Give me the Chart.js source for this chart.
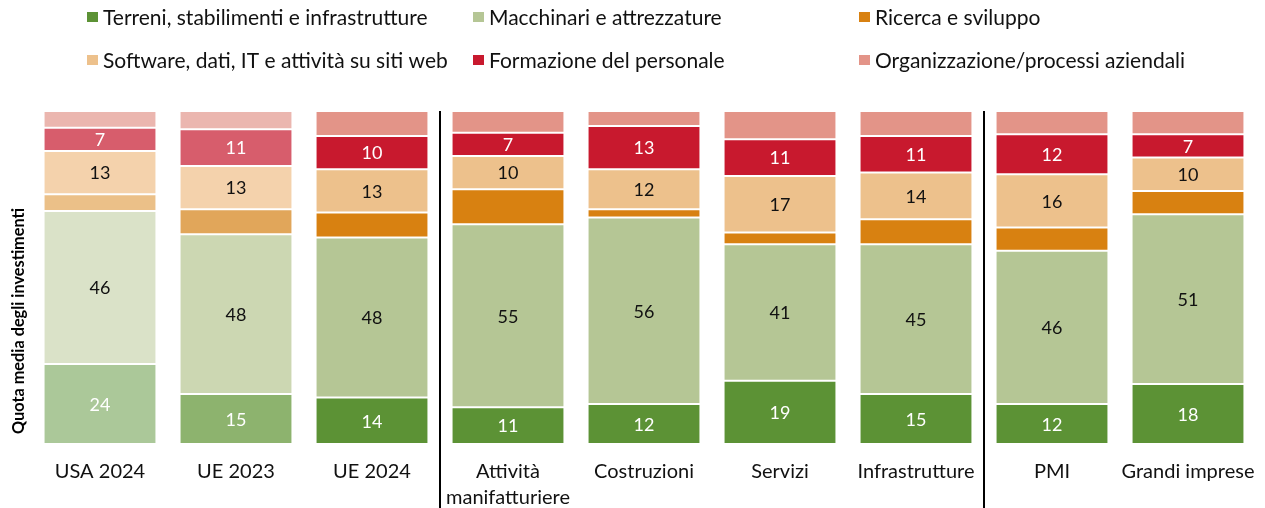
<!DOCTYPE html>
<html>
<head>
<meta charset="utf-8">
<script src="https://cdn.jsdelivr.net/npm/chart.js@4.4.1/dist/chart.umd.min.js"></script>
<style>
  html, body { margin: 0; padding: 0; background: #ffffff; }
  canvas { display: block; }
</style>
</head>
<body>
<canvas id="c" width="1265" height="508"></canvas>
<script>
// ---- data ----
const categories = ["USA 2024", "UE 2023", "UE 2024", ["Attività", "manifatturiere"], "Costruzioni", "Servizi", "Infrastrutture", "PMI", "Grandi imprese"];
const seriesNames = ["Terreni, stabilimenti e infrastrutture", "Macchinari e attrezzature", "Ricerca e sviluppo", "Software, dati, IT e attività su siti web", "Formazione del personale", "Organizzazione/processi aziendali"];
const terreni       = [24, 15, 14, 11, 12, 19, 15, 12, 18];
const macchinari    = [46, 48, 48, 55, 56, 41, 45, 46, 51];
const ricerca       = [5, 7.5, 7.5, 10.5, 2.5, 3.5, 7.5, 7, 7];
const software      = [13, 13, 13, 10, 12, 17, 14, 16, 10];
const formazione    = [7, 11, 10, 7, 13, 11, 11, 12, 7];
const organizzazione= [5, 5.5, 7.5, 6.5, 4.5, 8.5, 7.5, 7, 7];

// ---- styles ----
// shade per category: 0 = lightest (USA 2024), 1 = medium (UE 2023), 2 = full
const shade = [0, 1, 2, 2, 2, 2, 2, 2, 2];
const palette = [
  ["#ABC899", "#8DB36E", "#5C9235"],
  ["#DAE2C8", "#CCD7B2", "#B5C695"],
  ["#EBC088", "#E1A65A", "#D88111"],
  ["#F4D2AC", "#F4D2AC", "#EDC18C"],
  ["#D75D6C", "#D75D6C", "#C8192E"],
  ["#EBB6AF", "#EBB6AF", "#E39488"]
];
const labelColors = ["#ffffff", "#111111", null, "#111111", "#ffffff", null];
const seriesData = [terreni, macchinari, ricerca, software, formazione, organizzazione];
const FONT = "Lato, 'Open Sans', sans-serif";

const datasets = seriesData.map((d, i) => ({
  label: seriesNames[i],
  data: d,
  backgroundColor: shade.map(s => palette[i][s]),
  borderColor: "#ffffff",
  borderWidth: 1,
  borderSkipped: false,
  barPercentage: 0.83,
  categoryPercentage: 1.0,
  labelColor: labelColors[i]
}));

const overlay = {
  id: "overlay",
  afterDraw(chart) {
    const ctx = chart.ctx;
    const xs = chart.scales.x;
    const ca = chart.chartArea;
    // data labels
    ctx.save();
    ctx.font = "18px " + FONT;
    ctx.textAlign = "center";
    ctx.textBaseline = "middle";
    chart.data.datasets.forEach((ds, i) => {
      if (!ds.labelColor) return;
      const meta = chart.getDatasetMeta(i);
      meta.data.forEach((bar, j) => {
        const p = bar.getProps(["x", "y", "base"], true);
        ctx.fillStyle = ds.labelColor;
        ctx.fillText(String(ds.data[j]), p.x, (p.y + p.base) / 2 + 1);
      });
    });
    ctx.restore();
    // group separators
    ctx.save();
    ctx.strokeStyle = "#000000";
    ctx.lineWidth = 2;
    [2, 6].forEach(k => {
      const sx = Math.round((xs.getPixelForValue(k) + xs.getPixelForValue(k + 1)) / 2);
      ctx.beginPath();
      ctx.moveTo(sx, ca.top);
      ctx.lineTo(sx, chart.height);
      ctx.stroke();
    });
    ctx.restore();
    // y axis title
    ctx.save();
    ctx.translate(19, 321);
    ctx.rotate(-Math.PI / 2);
    ctx.font = "bold 16.3px " + FONT;
    ctx.fillStyle = "#000000";
    ctx.textAlign = "center";
    ctx.textBaseline = "middle";
    ctx.fillText("Quota media degli investimenti", 0, 0);
    ctx.restore();
    // legend
    ctx.save();
    ctx.font = "21px " + FONT;
    ctx.textBaseline = "middle";
    ctx.textAlign = "left";
    const colX = [87, 473, 859];
    const rowY = [17, 60];
    chart.data.datasets.forEach((ds, i) => {
      const cx = colX[i % 3], cy = rowY[Math.floor(i / 3)];
      ctx.fillStyle = palette[i][2];
      ctx.fillRect(cx, cy - 5, 11, 10);
      ctx.fillStyle = "#111111";
      ctx.fillText(ds.label, cx + 16, cy + 1);
    });
    ctx.restore();
  }
};

new Chart(document.getElementById("c"), {
  type: "bar",
  data: { labels: categories, datasets: datasets },
  options: {
    responsive: false,
    animation: false,
    devicePixelRatio: 1,
    layout: { padding: { top: 111, left: 32, right: 9, bottom: 0 } },
    plugins: { legend: { display: false }, tooltip: { enabled: false } },
    scales: {
      x: {
        stacked: true,
        grid: { display: false },
        border: { display: false },
        ticks: { color: "#111111", font: { family: FONT, size: 20, lineHeight: 1.3 }, padding: 7, maxRotation: 0, autoSkip: false },
        afterFit(scale) { scale.height = 64; }
      },
      y: {
        stacked: true,
        display: false,
        min: 0,
        max: 100
      }
    }
  },
  plugins: [overlay]
});
</script>
</body>
</html>
